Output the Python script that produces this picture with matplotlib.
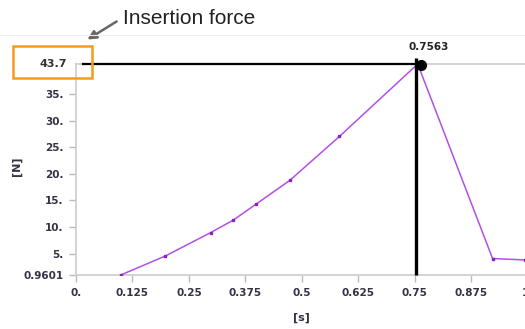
import matplotlib.pyplot as plt
from matplotlib.patches import Rectangle
from matplotlib.lines import Line2D

# force curve
time_s = [0.099, 0.198, 0.298, 0.348, 0.3975, 0.4735, 0.583, 0.7563, 0.922, 0.993, 1.05]
force_n = [0.9601, 4.55, 8.94, 11.3, 14.24, 18.8, 27.05, 40.7, 4.06, 3.8, 3.75]

peak_t = 0.7563
peak_f = 40.7
peak_label = "43.7"

xticks = [0, 0.125, 0.25, 0.375, 0.5, 0.625, 0.75, 0.875, 1.0]
xtick_labels = ["0.", "0.125", "0.25", "0.375", "0.5", "0.625", "0.75", "0.875", "1."]
yticks = [0.9601, 5, 10, 15, 20, 25, 30, 35]
ytick_labels = ["0.9601", "5.", "10.", "15.", "20.", "25.", "30.", "35."]

W, H = 525, 329
fig = plt.figure(figsize=(W / 100, H / 100), dpi=100)
ax = fig.add_axes([76 / W, (H - 275) / H, 497 / W, 211 / H])
ax.set_xlim(0, 1.1)
ax.set_ylim(0.9601, peak_f)

ax.plot(time_s, force_n, color="#b44fe6", lw=1.1, marker="s", ms=1.7,
        mfc="#8a1fc0", mec="#8a1fc0", zorder=3)

# peak marker lines
ax.plot([0.015, peak_t], [peak_f, peak_f], color="black", lw=1.6, clip_on=False, zorder=4)
ax.plot([peak_t - 0.004, peak_t - 0.004], [0.9601, peak_f + 1.1], color="black", lw=2.4,
        clip_on=False, zorder=4, solid_capstyle="butt")
ax.plot([peak_t + 0.008], [peak_f - 0.2], "o", color="black", ms=7, clip_on=False, zorder=5)
ax.text(peak_t + 0.025, peak_f + 2.2, f"{peak_t:.4f}", ha="center", va="bottom",
        fontsize=7.5, fontweight="bold", color="#222222")

ax.set_xticks(xticks)
ax.set_xticklabels(xtick_labels)
ax.set_yticks(yticks)
ax.set_yticklabels(ytick_labels)
ax.tick_params(axis="both", colors="#bbbbbb", labelcolor="#333344", labelsize=7.5,
               length=5, width=1, pad=4)
for lab in ax.get_xticklabels() + ax.get_yticklabels():
    lab.set_fontweight("bold")

for side in ["left", "bottom", "top"]:
    ax.spines[side].set_color("#cccccc")
    ax.spines[side].set_linewidth(1.2)
ax.spines["right"].set_visible(False)

ax.set_xlabel("[s]", fontsize=8, fontweight="bold", color="#333344")
ax.xaxis.set_label_coords((301 - 76) / 497, -(313 - 275) / 211)
ax.set_ylabel("[N]", fontsize=8, fontweight="bold", color="#333344")
ax.yaxis.set_label_coords(-(76 - 22) / 497, (275 - 166) / 211)

# top value label and annotation
fig.text(67 / W, 1 - 64 / H, peak_label, ha="right", va="center", fontsize=8,
         fontweight="bold", color="#333333")
fig.patches.append(Rectangle((13 / W, 1 - 78 / H), 79 / W, 32 / H, transform=fig.transFigure,
                             fill=False, edgecolor="#f59b1c", lw=1.8))
fig.lines.append(Line2D([0, 1], [1 - 35 / H, 1 - 35 / H], transform=fig.transFigure,
                        color="#eeeeee", lw=0.8))
fig.text(123 / W, 1 - 18 / H, "Insertion force", ha="left", va="center",
         fontsize=15, family="Liberation Sans", color="#222222")
ax.annotate("", xy=(85 / W, 1 - 41 / H), xycoords="figure fraction",
            xytext=(119 / W, 1 - 20 / H), textcoords="figure fraction",
            arrowprops=dict(arrowstyle="-|>", color="#666666", lw=1.8, mutation_scale=13))

fig.savefig("out.png", dpi=100)
